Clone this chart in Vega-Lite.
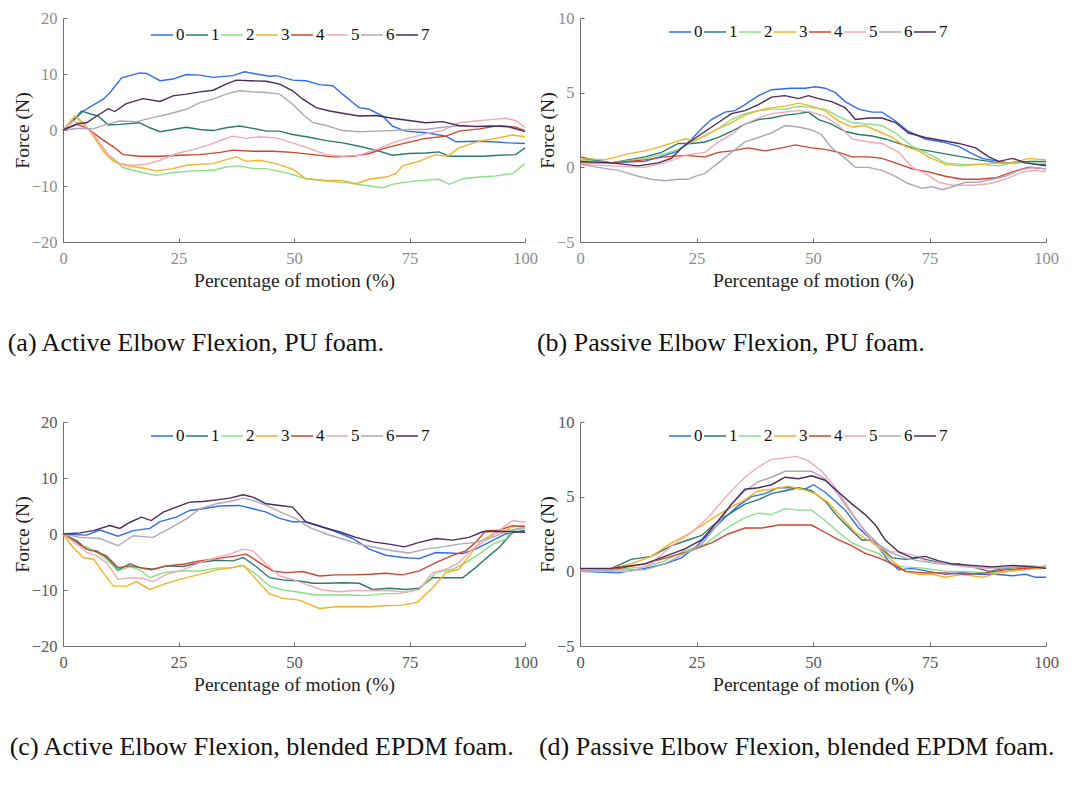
{
"$schema": "https://vega.github.io/schema/vega-lite/v6.json",
"autosize": {"type": "pad"},
"padding": {"left": 7, "top": 10, "right": 5, "bottom": 5},
"background": "white",
"config": {
  "view": {"stroke": null},
  "font": "Liberation Serif",
  "axis": {"grid": false, "domainColor": "#6e6e6e", "tickColor": "#6e6e6e", "tickSize": -4, "labelFont": "Liberation Serif", "labelFontSize": 16.5, "labelColor": "#8c8c8c", "titleFont": "Liberation Serif", "titleFontSize": 19.5, "titleFontWeight": "normal", "titleColor": "#222222", "labelFlush": false, "labelPadding": 10},
  "axisX": {"labelPadding": 12, "titlePadding": 5},
  "axisY": {"titlePadding": -1},
  "legend": {"orient": "none", "direction": "horizontal", "columns": 8, "symbolType": "stroke", "symbolSize": 484, "symbolStrokeWidth": 1.5, "labelFont": "Liberation Serif", "labelFontSize": 17, "labelColor": "#111111", "labelOffset": 2, "columnPadding": -2, "padding": 0},
  "title": {"font": "Liberation Serif", "fontSize": 26, "fontWeight": "normal", "color": "#111111", "orient": "bottom", "anchor": "start", "offset": 40}
},
"datasets": {
"a": [
{"s":0,"x":0,"y":0},{"s":0,"x":4.4,"y":3.4},{"s":0,"x":8.7,"y":5.5},{"s":0,"x":10.1,"y":6.6},{"s":0,"x":12.7,"y":9.3},{"s":0,"x":16.6,"y":10.2},{"s":0,"x":18.1,"y":10.1},{"s":0,"x":21,"y":8.8},{"s":0,"x":23.8,"y":9.1},{"s":0,"x":26.7,"y":9.9},{"s":0,"x":29.6,"y":9.8},{"s":0,"x":32.5,"y":9.4},{"s":0,"x":36.8,"y":9.7},{"s":0,"x":39.3,"y":10.4},{"s":0,"x":42.5,"y":9.9},{"s":0,"x":44.7,"y":9.6},{"s":0,"x":46.1,"y":9.7},{"s":0,"x":49.7,"y":8.9},{"s":0,"x":52.6,"y":8.8},{"s":0,"x":55.5,"y":8.1},{"s":0,"x":58.4,"y":7.9},{"s":0,"x":60.5,"y":6.4},{"s":0,"x":62.7,"y":4.9},{"s":0,"x":64.1,"y":4.0},{"s":0,"x":66.3,"y":3.7},{"s":0,"x":69.2,"y":2.5},{"s":0,"x":71.3,"y":0.7},{"s":0,"x":74.2,"y":-0.2},{"s":0,"x":78.5,"y":-0.5},{"s":0,"x":82.9,"y":-1.1},{"s":0,"x":85,"y":-2.1},{"s":0,"x":89.4,"y":-2.0},{"s":0,"x":93,"y":-2.1},{"s":0,"x":96.5,"y":-2.3},{"s":0,"x":100,"y":-2.4},
{"s":1,"x":0,"y":0},{"s":1,"x":2.2,"y":1.6},{"s":1,"x":4,"y":3.4},{"s":1,"x":5.8,"y":2.9},{"s":1,"x":7.6,"y":2.5},{"s":1,"x":9.8,"y":0.9},{"s":1,"x":12.3,"y":1.0},{"s":1,"x":16.6,"y":1.3},{"s":1,"x":18.8,"y":0.4},{"s":1,"x":21,"y":-0.3},{"s":1,"x":23.8,"y":0.1},{"s":1,"x":26.7,"y":0.5},{"s":1,"x":29.6,"y":0.1},{"s":1,"x":32.5,"y":-0.1},{"s":1,"x":35.3,"y":0.4},{"s":1,"x":38.2,"y":0.7},{"s":1,"x":41.1,"y":0.3},{"s":1,"x":44,"y":-0.2},{"s":1,"x":46.9,"y":-0.2},{"s":1,"x":49.7,"y":-0.8},{"s":1,"x":53.3,"y":-1.3},{"s":1,"x":57,"y":-1.9},{"s":1,"x":60.5,"y":-2.3},{"s":1,"x":64.1,"y":-2.9},{"s":1,"x":67.7,"y":-3.6},{"s":1,"x":71.3,"y":-4.5},{"s":1,"x":74.9,"y":-4.2},{"s":1,"x":78.5,"y":-4.1},{"s":1,"x":81.4,"y":-3.9},{"s":1,"x":83.6,"y":-4.7},{"s":1,"x":87.2,"y":-4.7},{"s":1,"x":90.8,"y":-4.7},{"s":1,"x":94.4,"y":-4.5},{"s":1,"x":98,"y":-4.4},{"s":1,"x":100,"y":-3.2},
{"s":2,"x":0,"y":0},{"s":2,"x":2.6,"y":2.5},{"s":2,"x":4.4,"y":1.0},{"s":2,"x":6.6,"y":-0.8},{"s":2,"x":10.1,"y":-4.7},{"s":2,"x":13,"y":-6.7},{"s":2,"x":16.6,"y":-7.5},{"s":2,"x":20.2,"y":-8.1},{"s":2,"x":23.8,"y":-7.6},{"s":2,"x":28.1,"y":-7.3},{"s":2,"x":32.5,"y":-7.2},{"s":2,"x":35.3,"y":-6.6},{"s":2,"x":38.2,"y":-6.4},{"s":2,"x":41.1,"y":-6.9},{"s":2,"x":44,"y":-6.9},{"s":2,"x":48.3,"y":-7.6},{"s":2,"x":52.6,"y":-8.7},{"s":2,"x":57,"y":-9.1},{"s":2,"x":61.3,"y":-9.4},{"s":2,"x":65.6,"y":-9.9},{"s":2,"x":69.2,"y":-10.3},{"s":2,"x":71.3,"y":-9.7},{"s":2,"x":74.2,"y":-9.3},{"s":2,"x":77.8,"y":-9.0},{"s":2,"x":81.4,"y":-8.8},{"s":2,"x":83.6,"y":-9.7},{"s":2,"x":86.5,"y":-8.7},{"s":2,"x":90.1,"y":-8.4},{"s":2,"x":93.7,"y":-8.2},{"s":2,"x":97.3,"y":-7.8},{"s":2,"x":100,"y":-6.0},
{"s":3,"x":0,"y":0},{"s":3,"x":2.6,"y":2.5},{"s":3,"x":4.4,"y":1.3},{"s":3,"x":6.6,"y":-1.1},{"s":3,"x":8.7,"y":-3.8},{"s":3,"x":10.9,"y":-5.6},{"s":3,"x":13.7,"y":-6.4},{"s":3,"x":16.6,"y":-6.7},{"s":3,"x":20.2,"y":-7.3},{"s":3,"x":23.8,"y":-6.9},{"s":3,"x":26.7,"y":-6.3},{"s":3,"x":29.6,"y":-6.1},{"s":3,"x":32.5,"y":-6.0},{"s":3,"x":35.3,"y":-5.3},{"s":3,"x":37.5,"y":-4.8},{"s":3,"x":39.7,"y":-5.6},{"s":3,"x":42.5,"y":-5.4},{"s":3,"x":46.1,"y":-6.0},{"s":3,"x":49.7,"y":-7.0},{"s":3,"x":52.6,"y":-8.7},{"s":3,"x":57,"y":-9.0},{"s":3,"x":60.5,"y":-9.0},{"s":3,"x":63.4,"y":-9.6},{"s":3,"x":66.3,"y":-8.8},{"s":3,"x":69.9,"y":-8.4},{"s":3,"x":72,"y":-7.8},{"s":3,"x":73.5,"y":-6.4},{"s":3,"x":77,"y":-5.6},{"s":3,"x":80.6,"y":-4.4},{"s":3,"x":83.2,"y":-4.7},{"s":3,"x":85.7,"y":-3.2},{"s":3,"x":90.1,"y":-2.0},{"s":3,"x":93.7,"y":-1.5},{"s":3,"x":97.3,"y":-0.9},{"s":3,"x":100,"y":-1.2},
{"s":4,"x":0,"y":0},{"s":4,"x":3,"y":1.0},{"s":4,"x":5.1,"y":0.4},{"s":4,"x":8,"y":-1.4},{"s":4,"x":10.9,"y":-3.0},{"s":4,"x":13,"y":-4.4},{"s":4,"x":16.6,"y":-4.7},{"s":4,"x":21,"y":-4.7},{"s":4,"x":25.3,"y":-4.5},{"s":4,"x":29.6,"y":-4.4},{"s":4,"x":34,"y":-4.0},{"s":4,"x":36.8,"y":-3.6},{"s":4,"x":41.1,"y":-3.8},{"s":4,"x":45.4,"y":-3.8},{"s":4,"x":49.7,"y":-4.0},{"s":4,"x":54.1,"y":-4.4},{"s":4,"x":58.4,"y":-4.8},{"s":4,"x":62.7,"y":-4.7},{"s":4,"x":66.3,"y":-4.2},{"s":4,"x":69.9,"y":-3.2},{"s":4,"x":74.2,"y":-2.3},{"s":4,"x":78.5,"y":-1.5},{"s":4,"x":82.9,"y":-1.1},{"s":4,"x":85.7,"y":-0.2},{"s":4,"x":90.1,"y":0.2},{"s":4,"x":94.4,"y":0.8},{"s":4,"x":98,"y":0.5},{"s":4,"x":100,"y":-0.1},
{"s":5,"x":0,"y":0},{"s":5,"x":2.2,"y":1.6},{"s":5,"x":4.4,"y":1.0},{"s":5,"x":6.6,"y":-0.8},{"s":5,"x":9.4,"y":-4.1},{"s":5,"x":12.3,"y":-6.0},{"s":5,"x":15.2,"y":-6.3},{"s":5,"x":18.1,"y":-6.1},{"s":5,"x":21,"y":-5.4},{"s":5,"x":24.6,"y":-4.2},{"s":5,"x":28.1,"y":-3.5},{"s":5,"x":31.8,"y":-2.6},{"s":5,"x":34.6,"y":-1.7},{"s":5,"x":36.8,"y":-1.1},{"s":5,"x":39.7,"y":-1.5},{"s":5,"x":42.5,"y":-1.2},{"s":5,"x":46.1,"y":-1.4},{"s":5,"x":49.7,"y":-2.3},{"s":5,"x":53.3,"y":-3.3},{"s":5,"x":57,"y":-4.4},{"s":5,"x":60.5,"y":-4.7},{"s":5,"x":64.1,"y":-4.5},{"s":5,"x":67.7,"y":-3.5},{"s":5,"x":71.3,"y":-2.3},{"s":5,"x":74.9,"y":-1.4},{"s":5,"x":78.5,"y":-0.7},{"s":5,"x":82.1,"y":-0.1},{"s":5,"x":85.7,"y":1.3},{"s":5,"x":89.4,"y":1.6},{"s":5,"x":93,"y":1.9},{"s":5,"x":95.8,"y":2.1},{"s":5,"x":98,"y":1.7},{"s":5,"x":100,"y":0.4},
{"s":6,"x":0,"y":0},{"s":6,"x":3.7,"y":0.3},{"s":6,"x":6.6,"y":0.2},{"s":6,"x":9.4,"y":1.0},{"s":6,"x":12.3,"y":1.6},{"s":6,"x":15.9,"y":1.5},{"s":6,"x":19.5,"y":2.2},{"s":6,"x":23.1,"y":2.9},{"s":6,"x":26.7,"y":3.7},{"s":6,"x":29.6,"y":4.9},{"s":6,"x":32.5,"y":5.5},{"s":6,"x":35.3,"y":6.4},{"s":6,"x":38.2,"y":7.0},{"s":6,"x":41.1,"y":6.8},{"s":6,"x":44,"y":6.7},{"s":6,"x":46.9,"y":6.4},{"s":6,"x":49.7,"y":4.6},{"s":6,"x":51.9,"y":2.8},{"s":6,"x":54.1,"y":1.3},{"s":6,"x":57,"y":0.8},{"s":6,"x":60.5,"y":-0.1},{"s":6,"x":64.1,"y":-0.3},{"s":6,"x":67.7,"y":-0.2},{"s":6,"x":71.3,"y":-0.1},{"s":6,"x":74.9,"y":0.1},{"s":6,"x":78.5,"y":0.1},{"s":6,"x":82.1,"y":0.5},{"s":6,"x":85.7,"y":0.7},{"s":6,"x":89.4,"y":0.7},{"s":6,"x":93,"y":0.8},{"s":6,"x":96.5,"y":0.5},{"s":6,"x":100,"y":-0.2},
{"s":7,"x":0,"y":0},{"s":7,"x":3,"y":1.1},{"s":7,"x":5.1,"y":1.3},{"s":7,"x":7.3,"y":2.5},{"s":7,"x":9.8,"y":3.8},{"s":7,"x":11.2,"y":3.3},{"s":7,"x":13.7,"y":4.7},{"s":7,"x":17.3,"y":5.6},{"s":7,"x":21,"y":5.1},{"s":7,"x":23.8,"y":6.1},{"s":7,"x":26.7,"y":6.4},{"s":7,"x":29.6,"y":6.8},{"s":7,"x":32.5,"y":7.1},{"s":7,"x":35.3,"y":8.2},{"s":7,"x":37.5,"y":8.9},{"s":7,"x":40.4,"y":8.8},{"s":7,"x":44,"y":8.7},{"s":7,"x":46.9,"y":8.2},{"s":7,"x":49.7,"y":7.0},{"s":7,"x":51.9,"y":5.5},{"s":7,"x":54.8,"y":4.0},{"s":7,"x":57.7,"y":3.4},{"s":7,"x":60.5,"y":3.0},{"s":7,"x":64.1,"y":2.5},{"s":7,"x":67.7,"y":2.6},{"s":7,"x":71.3,"y":2.1},{"s":7,"x":74.9,"y":1.7},{"s":7,"x":78.5,"y":1.3},{"s":7,"x":82.1,"y":1.5},{"s":7,"x":85.7,"y":0.8},{"s":7,"x":89.4,"y":0.6},{"s":7,"x":93,"y":0.7},{"s":7,"x":96.5,"y":0.6},{"s":7,"x":100,"y":-0.3}
],
"b": [
{"s":0,"x":0,"y":0.7},{"s":0,"x":6.7,"y":0.3},{"s":0,"x":13.9,"y":0.4},{"s":0,"x":18.2,"y":0.8},{"s":0,"x":21.1,"y":1.1},{"s":0,"x":24,"y":1.9},{"s":0,"x":26.1,"y":2.6},{"s":0,"x":28.2,"y":3.2},{"s":0,"x":31.1,"y":3.7},{"s":0,"x":33.3,"y":3.8},{"s":0,"x":35.4,"y":4.2},{"s":0,"x":38.3,"y":4.8},{"s":0,"x":41.1,"y":5.2},{"s":0,"x":45.4,"y":5.3},{"s":0,"x":48.3,"y":5.3},{"s":0,"x":50.5,"y":5.4},{"s":0,"x":52.6,"y":5.3},{"s":0,"x":54.8,"y":5.0},{"s":0,"x":56.9,"y":4.4},{"s":0,"x":59.8,"y":3.9},{"s":0,"x":62.7,"y":3.7},{"s":0,"x":64.8,"y":3.7},{"s":0,"x":67.7,"y":3.1},{"s":0,"x":70.5,"y":2.4},{"s":0,"x":74.1,"y":1.9},{"s":0,"x":77.7,"y":1.7},{"s":0,"x":81.3,"y":1.4},{"s":0,"x":84.2,"y":0.9},{"s":0,"x":86.3,"y":0.6},{"s":0,"x":89.9,"y":0.4},{"s":0,"x":92,"y":0.3},{"s":0,"x":94.9,"y":0.4},{"s":0,"x":97.8,"y":0.2},{"s":0,"x":100,"y":0.2},
{"s":1,"x":0,"y":0.6},{"s":1,"x":6.7,"y":0.3},{"s":1,"x":13.9,"y":0.7},{"s":1,"x":17.5,"y":1.0},{"s":1,"x":21.1,"y":1.6},{"s":1,"x":24,"y":1.6},{"s":1,"x":26.8,"y":1.7},{"s":1,"x":29.7,"y":2.0},{"s":1,"x":32.5,"y":2.4},{"s":1,"x":35.4,"y":2.9},{"s":1,"x":38.3,"y":3.2},{"s":1,"x":41.1,"y":3.3},{"s":1,"x":44,"y":3.5},{"s":1,"x":46.9,"y":3.6},{"s":1,"x":49,"y":3.7},{"s":1,"x":51.2,"y":3.2},{"s":1,"x":54,"y":2.9},{"s":1,"x":56.9,"y":2.4},{"s":1,"x":59.8,"y":2.2},{"s":1,"x":62.7,"y":2.1},{"s":1,"x":65.5,"y":1.9},{"s":1,"x":68.4,"y":1.6},{"s":1,"x":71.3,"y":1.3},{"s":1,"x":74.8,"y":1.1},{"s":1,"x":78.4,"y":0.9},{"s":1,"x":82,"y":0.7},{"s":1,"x":85.6,"y":0.5},{"s":1,"x":89.9,"y":0.3},{"s":1,"x":93.5,"y":0.3},{"s":1,"x":96.3,"y":0.4},{"s":1,"x":100,"y":0.4},
{"s":2,"x":0,"y":0.5},{"s":2,"x":6.7,"y":0.3},{"s":2,"x":13.9,"y":0.6},{"s":2,"x":18.2,"y":0.9},{"s":2,"x":21.1,"y":1.2},{"s":2,"x":24,"y":1.7},{"s":2,"x":26.8,"y":2.1},{"s":2,"x":29.7,"y":2.6},{"s":2,"x":32.5,"y":3.2},{"s":2,"x":35.4,"y":3.6},{"s":2,"x":38.3,"y":3.8},{"s":2,"x":41.1,"y":3.9},{"s":2,"x":44,"y":3.9},{"s":2,"x":46.9,"y":4.1},{"s":2,"x":49.7,"y":4.0},{"s":2,"x":52.6,"y":3.9},{"s":2,"x":55.5,"y":3.4},{"s":2,"x":58.4,"y":3.0},{"s":2,"x":61.9,"y":2.9},{"s":2,"x":64.8,"y":2.8},{"s":2,"x":67.7,"y":2.3},{"s":2,"x":71.3,"y":1.4},{"s":2,"x":74.8,"y":0.9},{"s":2,"x":78.4,"y":0.3},{"s":2,"x":82,"y":0.2},{"s":2,"x":85.6,"y":0.2},{"s":2,"x":89.9,"y":0.1},{"s":2,"x":92.8,"y":0.3},{"s":2,"x":96.3,"y":0.3},{"s":2,"x":100,"y":0.3},
{"s":3,"x":0,"y":0.6},{"s":3,"x":5.3,"y":0.5},{"s":3,"x":10.3,"y":0.9},{"s":3,"x":13.9,"y":1.1},{"s":3,"x":17.5,"y":1.4},{"s":3,"x":20.4,"y":1.7},{"s":3,"x":22.5,"y":1.9},{"s":3,"x":24.7,"y":1.8},{"s":3,"x":26.8,"y":2.1},{"s":3,"x":29.7,"y":2.6},{"s":3,"x":32.5,"y":3.0},{"s":3,"x":35.4,"y":3.5},{"s":3,"x":38.3,"y":3.8},{"s":3,"x":41.1,"y":4.0},{"s":3,"x":44,"y":4.1},{"s":3,"x":46.9,"y":4.3},{"s":3,"x":49.7,"y":4.1},{"s":3,"x":52.6,"y":3.8},{"s":3,"x":55.5,"y":3.1},{"s":3,"x":58.4,"y":2.7},{"s":3,"x":61.2,"y":2.8},{"s":3,"x":64.1,"y":2.4},{"s":3,"x":67,"y":2.0},{"s":3,"x":69.8,"y":1.4},{"s":3,"x":72.7,"y":1.1},{"s":3,"x":74.8,"y":0.7},{"s":3,"x":78.4,"y":0.2},{"s":3,"x":82,"y":0.1},{"s":3,"x":85.6,"y":0.2},{"s":3,"x":89.9,"y":0.3},{"s":3,"x":92.8,"y":0.3},{"s":3,"x":96.3,"y":0.6},{"s":3,"x":100,"y":0.5},
{"s":4,"x":0,"y":0.3},{"s":4,"x":6.7,"y":0.3},{"s":4,"x":13.9,"y":0.5},{"s":4,"x":18.2,"y":0.7},{"s":4,"x":22.5,"y":0.8},{"s":4,"x":26.8,"y":0.7},{"s":4,"x":29.7,"y":1.0},{"s":4,"x":32.5,"y":1.1},{"s":4,"x":36.1,"y":1.3},{"s":4,"x":39.7,"y":1.1},{"s":4,"x":43.3,"y":1.3},{"s":4,"x":46.2,"y":1.5},{"s":4,"x":49.7,"y":1.3},{"s":4,"x":52.6,"y":1.2},{"s":4,"x":55.5,"y":1.0},{"s":4,"x":58.4,"y":0.7},{"s":4,"x":61.9,"y":0.7},{"s":4,"x":64.8,"y":0.6},{"s":4,"x":67.7,"y":0.3},{"s":4,"x":71.3,"y":-0.1},{"s":4,"x":74.8,"y":-0.3},{"s":4,"x":78.4,"y":-0.6},{"s":4,"x":82,"y":-0.8},{"s":4,"x":85.6,"y":-0.8},{"s":4,"x":89.2,"y":-0.7},{"s":4,"x":92.8,"y":-0.3},{"s":4,"x":96.3,"y":0.0},{"s":4,"x":100,"y":-0.1},
{"s":5,"x":0,"y":0.2},{"s":5,"x":6.7,"y":0.1},{"s":5,"x":13.9,"y":0.0},{"s":5,"x":18.2,"y":0.3},{"s":5,"x":22.5,"y":0.8},{"s":5,"x":26.8,"y":1.0},{"s":5,"x":29.7,"y":1.7},{"s":5,"x":32.5,"y":2.2},{"s":5,"x":35.4,"y":2.9},{"s":5,"x":38.3,"y":3.3},{"s":5,"x":41.1,"y":3.6},{"s":5,"x":44,"y":3.7},{"s":5,"x":46.9,"y":3.8},{"s":5,"x":49.7,"y":3.7},{"s":5,"x":52.6,"y":3.4},{"s":5,"x":55.5,"y":2.8},{"s":5,"x":58.4,"y":1.9},{"s":5,"x":61.9,"y":1.7},{"s":5,"x":64.8,"y":1.6},{"s":5,"x":68.4,"y":1.0},{"s":5,"x":71.3,"y":0.0},{"s":5,"x":74.1,"y":-0.4},{"s":5,"x":77,"y":-1.0},{"s":5,"x":79.9,"y":-1.2},{"s":5,"x":84.2,"y":-1.2},{"s":5,"x":87.7,"y":-1.1},{"s":5,"x":91.3,"y":-0.8},{"s":5,"x":94.9,"y":-0.3},{"s":5,"x":97.8,"y":-0.2},{"s":5,"x":100,"y":-0.3},
{"s":6,"x":0,"y":0.2},{"s":6,"x":3.9,"y":0.0},{"s":6,"x":8.2,"y":-0.2},{"s":6,"x":12.5,"y":-0.6},{"s":6,"x":15.3,"y":-0.8},{"s":6,"x":18.2,"y":-0.9},{"s":6,"x":21.1,"y":-0.8},{"s":6,"x":23.2,"y":-0.8},{"s":6,"x":24.7,"y":-0.6},{"s":6,"x":26.8,"y":-0.4},{"s":6,"x":29.7,"y":0.3},{"s":6,"x":32.5,"y":1.0},{"s":6,"x":35.4,"y":1.7},{"s":6,"x":38.3,"y":2.0},{"s":6,"x":41.1,"y":2.3},{"s":6,"x":44,"y":2.8},{"s":6,"x":46.9,"y":2.7},{"s":6,"x":49.7,"y":2.5},{"s":6,"x":51.8,"y":2.2},{"s":6,"x":54,"y":1.3},{"s":6,"x":56.9,"y":0.6},{"s":6,"x":59.1,"y":0.0},{"s":6,"x":61.9,"y":0.0},{"s":6,"x":64.8,"y":-0.2},{"s":6,"x":67.7,"y":-0.6},{"s":6,"x":70.5,"y":-1.1},{"s":6,"x":73.4,"y":-1.4},{"s":6,"x":75.6,"y":-1.3},{"s":6,"x":77.7,"y":-1.5},{"s":6,"x":79.9,"y":-1.3},{"s":6,"x":82.7,"y":-1.0},{"s":6,"x":85.6,"y":-1.0},{"s":6,"x":88.5,"y":-0.8},{"s":6,"x":91.3,"y":-0.6},{"s":6,"x":94.2,"y":-0.2},{"s":6,"x":97.1,"y":0.0},{"s":6,"x":100,"y":-0.1},
{"s":7,"x":0,"y":0.4},{"s":7,"x":6.7,"y":0.3},{"s":7,"x":12.5,"y":0.1},{"s":7,"x":16.8,"y":0.3},{"s":7,"x":19.6,"y":0.6},{"s":7,"x":21.8,"y":1.3},{"s":7,"x":24,"y":1.8},{"s":7,"x":26.8,"y":2.4},{"s":7,"x":29.7,"y":3.0},{"s":7,"x":32.5,"y":3.6},{"s":7,"x":35.4,"y":3.8},{"s":7,"x":38.3,"y":4.2},{"s":7,"x":41.1,"y":4.7},{"s":7,"x":44,"y":4.8},{"s":7,"x":46.9,"y":4.6},{"s":7,"x":49,"y":4.8},{"s":7,"x":51.2,"y":4.6},{"s":7,"x":54,"y":4.4},{"s":7,"x":56.9,"y":4.0},{"s":7,"x":59.1,"y":3.2},{"s":7,"x":61.9,"y":3.3},{"s":7,"x":64.8,"y":3.3},{"s":7,"x":67.7,"y":3.0},{"s":7,"x":70.5,"y":2.3},{"s":7,"x":74.1,"y":2.0},{"s":7,"x":77.7,"y":1.8},{"s":7,"x":81.3,"y":1.6},{"s":7,"x":84.9,"y":1.3},{"s":7,"x":87.7,"y":0.7},{"s":7,"x":89.9,"y":0.4},{"s":7,"x":92.8,"y":0.6},{"s":7,"x":95.6,"y":0.3},{"s":7,"x":100,"y":0.1}
],
"c": [
{"s":0,"x":0,"y":0},{"s":0,"x":5.1,"y":-0.2},{"s":0,"x":8,"y":0.7},{"s":0,"x":11.9,"y":-0.4},{"s":0,"x":15.2,"y":0.6},{"s":0,"x":18.8,"y":1.0},{"s":0,"x":21,"y":2.2},{"s":0,"x":24.5,"y":3.0},{"s":0,"x":27.4,"y":4.2},{"s":0,"x":30.3,"y":4.5},{"s":0,"x":33.9,"y":5.0},{"s":0,"x":38.2,"y":5.1},{"s":0,"x":41.1,"y":4.5},{"s":0,"x":44,"y":3.9},{"s":0,"x":46.9,"y":2.8},{"s":0,"x":49.7,"y":2.2},{"s":0,"x":52.6,"y":2.2},{"s":0,"x":55.5,"y":1.5},{"s":0,"x":59.1,"y":0.4},{"s":0,"x":62.7,"y":-0.8},{"s":0,"x":66.3,"y":-2.7},{"s":0,"x":69.9,"y":-3.8},{"s":0,"x":73.5,"y":-4.2},{"s":0,"x":77.1,"y":-4.4},{"s":0,"x":80.7,"y":-3.3},{"s":0,"x":83.6,"y":-3.4},{"s":0,"x":86.5,"y":-3.5},{"s":0,"x":89.3,"y":-2.7},{"s":0,"x":92.2,"y":-1.5},{"s":0,"x":95.8,"y":0.0},{"s":0,"x":100,"y":0.6},
{"s":1,"x":0,"y":0},{"s":1,"x":3,"y":-1.2},{"s":1,"x":5.1,"y":-2.7},{"s":1,"x":7.3,"y":-3.0},{"s":1,"x":9.4,"y":-4.2},{"s":1,"x":11.9,"y":-6.4},{"s":1,"x":14.5,"y":-5.3},{"s":1,"x":16.6,"y":-6.0},{"s":1,"x":19.5,"y":-6.3},{"s":1,"x":22.4,"y":-5.7},{"s":1,"x":26,"y":-5.8},{"s":1,"x":29.6,"y":-5.1},{"s":1,"x":33.2,"y":-4.7},{"s":1,"x":36.8,"y":-4.8},{"s":1,"x":39,"y":-4.2},{"s":1,"x":41.8,"y":-5.8},{"s":1,"x":44.7,"y":-7.8},{"s":1,"x":47.6,"y":-8.2},{"s":1,"x":51.2,"y":-8.4},{"s":1,"x":54.1,"y":-8.8},{"s":1,"x":57,"y":-8.8},{"s":1,"x":60.5,"y":-8.7},{"s":1,"x":64.1,"y":-8.8},{"s":1,"x":67,"y":-9.9},{"s":1,"x":70.6,"y":-9.7},{"s":1,"x":74.2,"y":-9.9},{"s":1,"x":77.1,"y":-9.7},{"s":1,"x":80,"y":-7.8},{"s":1,"x":82.9,"y":-7.8},{"s":1,"x":86.5,"y":-7.8},{"s":1,"x":89.3,"y":-6.0},{"s":1,"x":92.2,"y":-3.9},{"s":1,"x":94.4,"y":-2.4},{"s":1,"x":97.3,"y":0.3},{"s":1,"x":100,"y":0.6},
{"s":2,"x":0,"y":0},{"s":2,"x":3,"y":-1.8},{"s":2,"x":5.1,"y":-2.3},{"s":2,"x":7.3,"y":-3.3},{"s":2,"x":9.4,"y":-4.5},{"s":2,"x":11.9,"y":-6.6},{"s":2,"x":14.5,"y":-5.8},{"s":2,"x":16.6,"y":-6.4},{"s":2,"x":18.8,"y":-7.8},{"s":2,"x":21.7,"y":-6.9},{"s":2,"x":25.3,"y":-6.6},{"s":2,"x":29.6,"y":-6.6},{"s":2,"x":33.2,"y":-6.1},{"s":2,"x":36.8,"y":-6.0},{"s":2,"x":39,"y":-5.6},{"s":2,"x":41.8,"y":-7.2},{"s":2,"x":44.7,"y":-9.3},{"s":2,"x":47.6,"y":-10.0},{"s":2,"x":51.2,"y":-10.4},{"s":2,"x":54.8,"y":-10.9},{"s":2,"x":58.4,"y":-10.9},{"s":2,"x":62,"y":-10.9},{"s":2,"x":65.6,"y":-11.0},{"s":2,"x":69.2,"y":-10.7},{"s":2,"x":72.8,"y":-10.6},{"s":2,"x":77.1,"y":-9.9},{"s":2,"x":80.7,"y":-6.9},{"s":2,"x":84.3,"y":-6.3},{"s":2,"x":87.2,"y":-5.1},{"s":2,"x":90.1,"y":-3.6},{"s":2,"x":93,"y":-1.8},{"s":2,"x":95.8,"y":-0.9},{"s":2,"x":97.3,"y":0.6},{"s":2,"x":100,"y":1.0},
{"s":3,"x":0,"y":0},{"s":3,"x":2.2,"y":-2.4},{"s":3,"x":4.4,"y":-4.2},{"s":3,"x":6.6,"y":-4.5},{"s":3,"x":8.7,"y":-6.9},{"s":3,"x":10.9,"y":-9.3},{"s":3,"x":13.8,"y":-9.3},{"s":3,"x":15.9,"y":-8.5},{"s":3,"x":18.8,"y":-9.9},{"s":3,"x":21.7,"y":-9.0},{"s":3,"x":25.3,"y":-8.1},{"s":3,"x":29.6,"y":-7.2},{"s":3,"x":33.2,"y":-6.4},{"s":3,"x":36.1,"y":-6.1},{"s":3,"x":39,"y":-5.6},{"s":3,"x":41.8,"y":-8.1},{"s":3,"x":44.7,"y":-10.7},{"s":3,"x":47.6,"y":-11.5},{"s":3,"x":51.2,"y":-11.8},{"s":3,"x":55.5,"y":-13.3},{"s":3,"x":59.1,"y":-13.0},{"s":3,"x":62.7,"y":-13.0},{"s":3,"x":66.3,"y":-13.0},{"s":3,"x":69.9,"y":-12.8},{"s":3,"x":73.5,"y":-12.7},{"s":3,"x":76.7,"y":-12.2},{"s":3,"x":80,"y":-9.6},{"s":3,"x":82.9,"y":-6.9},{"s":3,"x":85.7,"y":-6.3},{"s":3,"x":87.9,"y":-3.9},{"s":3,"x":90.1,"y":-1.5},{"s":3,"x":93,"y":0.0},{"s":3,"x":95.8,"y":0.6},{"s":3,"x":97.3,"y":1.3},{"s":3,"x":100,"y":1.5},
{"s":4,"x":0,"y":0},{"s":4,"x":3,"y":-1.5},{"s":4,"x":5.1,"y":-2.7},{"s":4,"x":7.3,"y":-3.2},{"s":4,"x":9.4,"y":-3.9},{"s":4,"x":11.9,"y":-6.0},{"s":4,"x":14.5,"y":-5.7},{"s":4,"x":16.6,"y":-6.0},{"s":4,"x":19.1,"y":-6.4},{"s":4,"x":22.4,"y":-5.7},{"s":4,"x":26,"y":-5.4},{"s":4,"x":29.6,"y":-4.8},{"s":4,"x":33.2,"y":-4.4},{"s":4,"x":36.8,"y":-4.0},{"s":4,"x":39.7,"y":-3.6},{"s":4,"x":42.5,"y":-5.1},{"s":4,"x":45.4,"y":-6.6},{"s":4,"x":48.3,"y":-6.9},{"s":4,"x":51.9,"y":-6.7},{"s":4,"x":55.5,"y":-7.5},{"s":4,"x":59.1,"y":-7.3},{"s":4,"x":62.7,"y":-7.3},{"s":4,"x":66.3,"y":-7.2},{"s":4,"x":69.9,"y":-7.0},{"s":4,"x":73.5,"y":-7.3},{"s":4,"x":77.1,"y":-6.6},{"s":4,"x":80.7,"y":-5.1},{"s":4,"x":84.3,"y":-3.8},{"s":4,"x":87.2,"y":-3.0},{"s":4,"x":89.3,"y":-1.5},{"s":4,"x":91.5,"y":0.6},{"s":4,"x":94.4,"y":0.7},{"s":4,"x":97.3,"y":1.5},{"s":4,"x":100,"y":1.3},
{"s":5,"x":0,"y":0},{"s":5,"x":3,"y":-1.8},{"s":5,"x":5.1,"y":-3.3},{"s":5,"x":7.3,"y":-3.9},{"s":5,"x":9.4,"y":-5.1},{"s":5,"x":11.9,"y":-8.1},{"s":5,"x":14.5,"y":-7.8},{"s":5,"x":17.3,"y":-7.9},{"s":5,"x":19.5,"y":-8.5},{"s":5,"x":22.4,"y":-7.2},{"s":5,"x":26,"y":-6.4},{"s":5,"x":29.6,"y":-5.1},{"s":5,"x":33.2,"y":-4.2},{"s":5,"x":36.1,"y":-3.6},{"s":5,"x":39,"y":-2.7},{"s":5,"x":41.1,"y":-3.0},{"s":5,"x":44,"y":-5.4},{"s":5,"x":46.9,"y":-7.5},{"s":5,"x":49.7,"y":-8.1},{"s":5,"x":52.6,"y":-9.0},{"s":5,"x":56.2,"y":-10.0},{"s":5,"x":59.8,"y":-10.3},{"s":5,"x":63.4,"y":-10.1},{"s":5,"x":67,"y":-10.1},{"s":5,"x":70.6,"y":-10.1},{"s":5,"x":74.2,"y":-10.4},{"s":5,"x":77.1,"y":-9.9},{"s":5,"x":80,"y":-6.9},{"s":5,"x":82.9,"y":-6.3},{"s":5,"x":85.7,"y":-5.1},{"s":5,"x":88.6,"y":-2.7},{"s":5,"x":91.5,"y":-1.2},{"s":5,"x":94.4,"y":0.6},{"s":5,"x":97.3,"y":2.4},{"s":5,"x":100,"y":2.1},
{"s":6,"x":0,"y":0},{"s":6,"x":3.7,"y":-0.6},{"s":6,"x":8,"y":-0.8},{"s":6,"x":11.9,"y":-2.1},{"s":6,"x":15.2,"y":-0.3},{"s":6,"x":19.5,"y":-0.6},{"s":6,"x":23.1,"y":1.0},{"s":6,"x":26.7,"y":2.7},{"s":6,"x":29.6,"y":4.5},{"s":6,"x":33.2,"y":5.4},{"s":6,"x":36.1,"y":5.8},{"s":6,"x":39,"y":6.4},{"s":6,"x":41.1,"y":6.0},{"s":6,"x":44,"y":5.1},{"s":6,"x":46.9,"y":4.0},{"s":6,"x":50.5,"y":2.7},{"s":6,"x":53.3,"y":1.2},{"s":6,"x":57,"y":0.0},{"s":6,"x":60.5,"y":-0.9},{"s":6,"x":64.1,"y":-1.8},{"s":6,"x":67.7,"y":-2.4},{"s":6,"x":71.3,"y":-3.0},{"s":6,"x":74.9,"y":-3.4},{"s":6,"x":78.5,"y":-2.7},{"s":6,"x":82.1,"y":-2.3},{"s":6,"x":85.7,"y":-1.8},{"s":6,"x":89.3,"y":-1.5},{"s":6,"x":92.9,"y":-0.6},{"s":6,"x":96.5,"y":0.6},{"s":6,"x":100,"y":1.2},
{"s":7,"x":0,"y":0},{"s":7,"x":3.7,"y":0.2},{"s":7,"x":6.6,"y":0.6},{"s":7,"x":10.1,"y":1.5},{"s":7,"x":12.3,"y":1.0},{"s":7,"x":14.5,"y":2.1},{"s":7,"x":17,"y":3.0},{"s":7,"x":19.1,"y":2.4},{"s":7,"x":21.7,"y":3.9},{"s":7,"x":24.5,"y":4.8},{"s":7,"x":27.4,"y":5.7},{"s":7,"x":30.3,"y":5.8},{"s":7,"x":33.2,"y":6.1},{"s":7,"x":36.1,"y":6.4},{"s":7,"x":39,"y":7.0},{"s":7,"x":41.1,"y":6.6},{"s":7,"x":44,"y":5.4},{"s":7,"x":46.9,"y":5.1},{"s":7,"x":49.7,"y":4.8},{"s":7,"x":52.6,"y":2.1},{"s":7,"x":56.2,"y":1.2},{"s":7,"x":59.8,"y":0.4},{"s":7,"x":63.4,"y":-0.6},{"s":7,"x":67,"y":-1.4},{"s":7,"x":70.6,"y":-1.8},{"s":7,"x":73.9,"y":-2.3},{"s":7,"x":77.1,"y":-1.5},{"s":7,"x":80.7,"y":-0.8},{"s":7,"x":84.3,"y":-1.1},{"s":7,"x":87.9,"y":-0.6},{"s":7,"x":90.8,"y":0.4},{"s":7,"x":94.4,"y":0.5},{"s":7,"x":100,"y":0.3}
],
"d": [
{"s":0,"x":0,"y":0.0},{"s":0,"x":8.2,"y":-0.1},{"s":0,"x":13.9,"y":0.2},{"s":0,"x":18.2,"y":0.5},{"s":0,"x":21.8,"y":0.9},{"s":0,"x":25.4,"y":1.8},{"s":0,"x":28.2,"y":2.7},{"s":0,"x":31.1,"y":3.6},{"s":0,"x":34,"y":4.4},{"s":0,"x":36.8,"y":5.0},{"s":0,"x":39.7,"y":5.2},{"s":0,"x":42.6,"y":5.6},{"s":0,"x":45.4,"y":5.6},{"s":0,"x":48.3,"y":5.5},{"s":0,"x":50.1,"y":5.8},{"s":0,"x":52.6,"y":5.3},{"s":0,"x":54.8,"y":4.7},{"s":0,"x":56.9,"y":4.1},{"s":0,"x":59.8,"y":2.9},{"s":0,"x":61.9,"y":2.3},{"s":0,"x":64.1,"y":1.6},{"s":0,"x":66.2,"y":0.7},{"s":0,"x":68.4,"y":0.1},{"s":0,"x":71.3,"y":0.2},{"s":0,"x":74.8,"y":0.0},{"s":0,"x":78.4,"y":-0.2},{"s":0,"x":82,"y":-0.1},{"s":0,"x":85.6,"y":-0.2},{"s":0,"x":89.2,"y":-0.2},{"s":0,"x":92.8,"y":-0.3},{"s":0,"x":95.6,"y":-0.2},{"s":0,"x":97.8,"y":-0.4},{"s":0,"x":100,"y":-0.4},
{"s":1,"x":0,"y":0.1},{"s":1,"x":6.7,"y":0.2},{"s":1,"x":11,"y":0.8},{"s":1,"x":15.3,"y":1.0},{"s":1,"x":19.6,"y":1.7},{"s":1,"x":23.2,"y":2.1},{"s":1,"x":26.1,"y":2.4},{"s":1,"x":29,"y":3.2},{"s":1,"x":31.8,"y":3.8},{"s":1,"x":35.4,"y":4.5},{"s":1,"x":38.3,"y":4.8},{"s":1,"x":41.1,"y":5.2},{"s":1,"x":44,"y":5.4},{"s":1,"x":46.9,"y":5.6},{"s":1,"x":49.7,"y":5.4},{"s":1,"x":52.6,"y":4.7},{"s":1,"x":55.5,"y":3.6},{"s":1,"x":58.4,"y":2.7},{"s":1,"x":60.5,"y":2.1},{"s":1,"x":62.7,"y":2.1},{"s":1,"x":64.8,"y":1.5},{"s":1,"x":67,"y":0.9},{"s":1,"x":69.8,"y":0.8},{"s":1,"x":72.7,"y":0.9},{"s":1,"x":75.6,"y":0.7},{"s":1,"x":78.4,"y":0.5},{"s":1,"x":81.3,"y":0.5},{"s":1,"x":84.2,"y":0.3},{"s":1,"x":87.7,"y":0.0},{"s":1,"x":91.3,"y":0.2},{"s":1,"x":94.9,"y":0.3},{"s":1,"x":100,"y":0.2},
{"s":2,"x":0,"y":0.0},{"s":2,"x":6.7,"y":0.1},{"s":2,"x":13.9,"y":0.3},{"s":2,"x":18.2,"y":0.7},{"s":2,"x":22.5,"y":1.4},{"s":2,"x":26.8,"y":1.8},{"s":2,"x":29.7,"y":2.5},{"s":2,"x":32.5,"y":3.1},{"s":2,"x":35.4,"y":3.6},{"s":2,"x":38.3,"y":3.9},{"s":2,"x":41.1,"y":3.8},{"s":2,"x":44,"y":4.2},{"s":2,"x":46.9,"y":4.1},{"s":2,"x":49.7,"y":4.1},{"s":2,"x":52.6,"y":3.4},{"s":2,"x":55.5,"y":2.6},{"s":2,"x":58.4,"y":1.9},{"s":2,"x":61.2,"y":1.5},{"s":2,"x":64.1,"y":1.2},{"s":2,"x":67,"y":0.4},{"s":2,"x":69.8,"y":0.3},{"s":2,"x":74.1,"y":0.2},{"s":2,"x":78.4,"y":0.0},{"s":2,"x":82.7,"y":0.0},{"s":2,"x":87,"y":-0.1},{"s":2,"x":91.3,"y":0.0},{"s":2,"x":95.6,"y":0.1},{"s":2,"x":100,"y":0.4},
{"s":3,"x":0,"y":0.1},{"s":3,"x":6.7,"y":0.2},{"s":3,"x":11,"y":0.5},{"s":3,"x":15.3,"y":1.0},{"s":3,"x":19.6,"y":1.9},{"s":3,"x":23.2,"y":2.5},{"s":3,"x":26.8,"y":3.2},{"s":3,"x":29.7,"y":3.8},{"s":3,"x":32.5,"y":4.3},{"s":3,"x":35.4,"y":4.8},{"s":3,"x":38.3,"y":5.4},{"s":3,"x":41.1,"y":5.5},{"s":3,"x":44.7,"y":5.7},{"s":3,"x":47.6,"y":5.5},{"s":3,"x":50.5,"y":5.2},{"s":3,"x":53.3,"y":4.6},{"s":3,"x":56.2,"y":3.6},{"s":3,"x":59.1,"y":2.6},{"s":3,"x":61.9,"y":2.1},{"s":3,"x":64.1,"y":1.6},{"s":3,"x":67,"y":0.7},{"s":3,"x":69.8,"y":0.0},{"s":3,"x":72.7,"y":-0.2},{"s":3,"x":75.6,"y":-0.2},{"s":3,"x":78.4,"y":-0.4},{"s":3,"x":82,"y":-0.2},{"s":3,"x":86.3,"y":-0.4},{"s":3,"x":89.9,"y":-0.1},{"s":3,"x":94.2,"y":0.1},{"s":3,"x":100,"y":0.2},
{"s":4,"x":0,"y":0.0},{"s":4,"x":6.7,"y":0.1},{"s":4,"x":13.9,"y":0.5},{"s":4,"x":19.6,"y":1.0},{"s":4,"x":23.9,"y":1.4},{"s":4,"x":28.2,"y":1.9},{"s":4,"x":31.8,"y":2.5},{"s":4,"x":35.4,"y":2.9},{"s":4,"x":39,"y":2.9},{"s":4,"x":42.6,"y":3.1},{"s":4,"x":46.2,"y":3.1},{"s":4,"x":49.7,"y":3.1},{"s":4,"x":52.6,"y":2.6},{"s":4,"x":55.5,"y":2.1},{"s":4,"x":58.4,"y":1.7},{"s":4,"x":61.2,"y":1.2},{"s":4,"x":64.1,"y":0.9},{"s":4,"x":67,"y":0.5},{"s":4,"x":69.8,"y":0.0},{"s":4,"x":74.1,"y":-0.1},{"s":4,"x":78.4,"y":-0.1},{"s":4,"x":82.7,"y":-0.2},{"s":4,"x":87,"y":-0.1},{"s":4,"x":91.3,"y":0.1},{"s":4,"x":95.6,"y":0.2},{"s":4,"x":100,"y":0.3},
{"s":5,"x":0,"y":0.0},{"s":5,"x":6.7,"y":0.0},{"s":5,"x":11,"y":0.0},{"s":5,"x":15.3,"y":0.5},{"s":5,"x":19.6,"y":1.7},{"s":5,"x":23.9,"y":2.6},{"s":5,"x":27.5,"y":3.6},{"s":5,"x":29.7,"y":4.4},{"s":5,"x":32.5,"y":5.4},{"s":5,"x":35.4,"y":6.3},{"s":5,"x":38.3,"y":7.0},{"s":5,"x":41.1,"y":7.5},{"s":5,"x":44,"y":7.6},{"s":5,"x":46.5,"y":7.7},{"s":5,"x":49,"y":7.4},{"s":5,"x":51.9,"y":6.7},{"s":5,"x":54.8,"y":5.6},{"s":5,"x":57.6,"y":4.3},{"s":5,"x":60.5,"y":2.9},{"s":5,"x":63.4,"y":1.8},{"s":5,"x":66.2,"y":1.3},{"s":5,"x":68.4,"y":1.3},{"s":5,"x":71.3,"y":1.1},{"s":5,"x":74.1,"y":0.7},{"s":5,"x":78.4,"y":0.5},{"s":5,"x":82.7,"y":0.3},{"s":5,"x":87,"y":0.2},{"s":5,"x":91.3,"y":0.3},{"s":5,"x":95.6,"y":0.4},{"s":5,"x":100,"y":0.3},
{"s":6,"x":0,"y":0.0},{"s":6,"x":6.7,"y":0.1},{"s":6,"x":13.9,"y":0.1},{"s":6,"x":18.2,"y":0.5},{"s":6,"x":22.5,"y":1.2},{"s":6,"x":26.1,"y":1.8},{"s":6,"x":29.7,"y":3.2},{"s":6,"x":32.5,"y":4.5},{"s":6,"x":35.4,"y":5.4},{"s":6,"x":38.3,"y":6.0},{"s":6,"x":41.1,"y":6.3},{"s":6,"x":44,"y":6.7},{"s":6,"x":46.9,"y":6.7},{"s":6,"x":49.7,"y":6.7},{"s":6,"x":52.6,"y":6.2},{"s":6,"x":55.5,"y":5.1},{"s":6,"x":58.4,"y":3.8},{"s":6,"x":61.2,"y":2.7},{"s":6,"x":64.1,"y":1.8},{"s":6,"x":67,"y":1.2},{"s":6,"x":69.8,"y":0.9},{"s":6,"x":72.7,"y":0.7},{"s":6,"x":77,"y":0.5},{"s":6,"x":81.3,"y":0.4},{"s":6,"x":85.6,"y":0.3},{"s":6,"x":89.9,"y":0.2},{"s":6,"x":94.2,"y":0.3},{"s":6,"x":100,"y":0.3},
{"s":7,"x":0,"y":0.2},{"s":7,"x":6.7,"y":0.2},{"s":7,"x":13.9,"y":0.5},{"s":7,"x":18.2,"y":1.0},{"s":7,"x":22.5,"y":1.5},{"s":7,"x":26.1,"y":2.1},{"s":7,"x":29.7,"y":3.4},{"s":7,"x":32.5,"y":4.5},{"s":7,"x":35.4,"y":5.5},{"s":7,"x":38.3,"y":5.6},{"s":7,"x":41.1,"y":5.8},{"s":7,"x":44,"y":6.3},{"s":7,"x":46.9,"y":6.2},{"s":7,"x":49.7,"y":6.4},{"s":7,"x":52.6,"y":6.1},{"s":7,"x":55.5,"y":5.3},{"s":7,"x":58.4,"y":4.5},{"s":7,"x":61.2,"y":3.8},{"s":7,"x":63.4,"y":3.1},{"s":7,"x":65.5,"y":2.1},{"s":7,"x":68.4,"y":1.3},{"s":7,"x":71.3,"y":0.9},{"s":7,"x":74.1,"y":1.0},{"s":7,"x":77,"y":0.7},{"s":7,"x":79.9,"y":0.5},{"s":7,"x":84.2,"y":0.4},{"s":7,"x":88.5,"y":0.3},{"s":7,"x":92.8,"y":0.4},{"s":7,"x":97.1,"y":0.3},{"s":7,"x":100,"y":0.2}
]
},
"columns": 2,
"spacing": {"row": 180, "column": 55},
"bounds": "flush",
"resolve": {"legend": {"color": "independent"}, "scale": {"color": "independent"}},
"concat": [
{
  "width": 462, "height": 224,
  "data": {"name": "a"},
  "title": {"text": "(a) Active Elbow Flexion, PU foam.", "dx": -4.5},
  "mark": {"type": "line", "strokeWidth": 1.4},
  "encoding": {
    "x": {"field": "x", "type": "quantitative", "scale": {"domain": [0, 100], "nice": false}, "axis": {"values": [0, 25, 50, 75, 100], "title": "Percentage of motion (%)"}},
    "y": {"field": "y", "type": "quantitative", "scale": {"domain": [-20, 20], "nice": false}, "axis": {"values": [-20, -10, 0, 10, 20], "title": "Force (N)"}},
    "color": {"field": "s", "type": "nominal", "scale": {"domain": [0,1,2,3,4,5,6,7], "range": ["#2f6cf0","#2a7b6c","#86e086","#f5b224","#d0442e","#f2a9b3","#aca8bb","#4c2a5c"]}, "legend": {"title": null, "legendX": 87, "legendY": 5}}
  }
},
{
  "width": 466, "height": 224,
  "data": {"name": "b"},
  "title": {"text": "(b) Passive Elbow Flexion, PU foam.", "dx": -0.5},
  "mark": {"type": "line", "strokeWidth": 1.4},
  "encoding": {
    "x": {"field": "x", "type": "quantitative", "scale": {"domain": [0, 100], "nice": false}, "axis": {"values": [0, 25, 50, 75, 100], "title": "Percentage of motion (%)"}},
    "y": {"field": "y", "type": "quantitative", "scale": {"domain": [-5, 10], "nice": false}, "axis": {"values": [-5, 0, 5, 10], "title": "Force (N)"}},
    "color": {"field": "s", "type": "nominal", "scale": {"domain": [0,1,2,3,4,5,6,7], "range": ["#2f6cf0","#2a7b6c","#86e086","#f5b224","#d0442e","#f2a9b3","#aca8bb","#4c2a5c"]}, "legend": {"title": null, "legendX": 88, "legendY": 2}}
  }
},
{
  "width": 462, "height": 224,
  "data": {"name": "c"},
  "title": {"text": "(c) Active Elbow Flexion, blended EPDM foam.", "dx": -2.5},
  "mark": {"type": "line", "strokeWidth": 1.4},
  "encoding": {
    "x": {"field": "x", "type": "quantitative", "scale": {"domain": [0, 100], "nice": false}, "axis": {"values": [0, 25, 50, 75, 100], "title": "Percentage of motion (%)", "labelColor": "#555555"}},
    "y": {"field": "y", "type": "quantitative", "scale": {"domain": [-20, 20], "nice": false}, "axis": {"values": [-20, -10, 0, 10, 20], "title": "Force (N)", "labelColor": "#555555"}},
    "color": {"field": "s", "type": "nominal", "scale": {"domain": [0,1,2,3,4,5,6,7], "range": ["#2f6cf0","#2a7b6c","#86e086","#f5b224","#d0442e","#f2a9b3","#aca8bb","#4c2a5c"]}, "legend": {"title": null, "legendX": 87, "legendY": 2}}
  }
},
{
  "width": 466, "height": 224,
  "data": {"name": "d"},
  "title": {"text": "(d) Passive Elbow Flexion, blended EPDM foam.", "dx": 1.5},
  "mark": {"type": "line", "strokeWidth": 1.4},
  "encoding": {
    "x": {"field": "x", "type": "quantitative", "scale": {"domain": [0, 100], "nice": false}, "axis": {"values": [0, 25, 50, 75, 100], "title": "Percentage of motion (%)", "labelColor": "#555555"}},
    "y": {"field": "y", "type": "quantitative", "scale": {"domain": [-5, 10], "nice": false}, "axis": {"values": [-5, 0, 5, 10], "title": "Force (N)", "labelColor": "#555555"}},
    "color": {"field": "s", "type": "nominal", "scale": {"domain": [0,1,2,3,4,5,6,7], "range": ["#2f6cf0","#2a7b6c","#86e086","#f5b224","#d0442e","#f2a9b3","#aca8bb","#4c2a5c"]}, "legend": {"title": null, "legendX": 88, "legendY": 2}}
  }
}
]
}
